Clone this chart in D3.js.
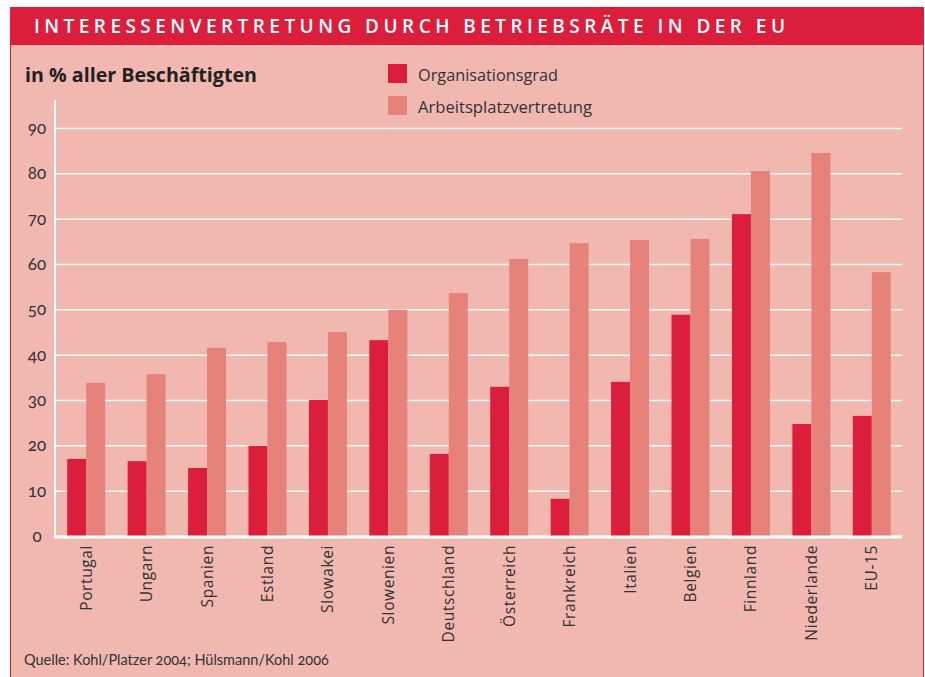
<!DOCTYPE html>
<html lang="de">
<head>
    <meta charset="UTF-8">
    <title>Interessenvertretung durch Betriebsräte in der EU</title>
    <script src="https://cdnjs.cloudflare.com/ajax/libs/d3/7.8.5/d3.min.js"></script>
    <style>
        body { margin: 0; background: #fff; }
        svg { display: block; }
    </style>
</head>
<body>
    <div id="wrapper"></div>
    <script>
        // Daten
        const countries = ['Portugal', 'Ungarn', 'Spanien', 'Estland', 'Slowakei', 'Slowenien',
            'Deutschland', 'Österreich', 'Frankreich', 'Italien', 'Belgien', 'Finnland',
            'Niederlande', 'EU-15']
        const organisationsgrad = [17.0, 16.5, 15.0, 19.9, 30.0, 43.2, 18.1, 32.9, 8.2, 34.0, 48.8, 71.0, 24.7, 26.5]
        const arbeitsplatzvertretung = [33.8, 35.7, 41.5, 42.8, 45.0, 49.9, 53.6, 61.1, 64.6, 65.3, 65.5, 80.5, 84.5, 58.2]
        const yTicks = [0, 10, 20, 30, 40, 50, 60, 70, 80, 90]
        const seriesNames = ['Organisationsgrad', 'Arbeitsplatzvertretung']

        const colors = {
            red: '#db1e3c',
            light: '#e6827a',
            panel: '#f0b8b0',
            text: '#333333'
        }

        function drawChart() {
            const dimensions = { width: 925, height: 677 }

            const wrapper = d3.select('#wrapper')
                .append('svg')
                    .attr('width', dimensions.width)
                    .attr('height', dimensions.height)

            // Rahmen + Titelbalken
            wrapper.append('rect')
                .attr('x', 10).attr('y', 7)
                .attr('width', 914).attr('height', 680)
                .attr('fill', colors.red)
            wrapper.append('rect')
                .attr('x', 11).attr('y', 45)
                .attr('width', 912).attr('height', 640)
                .attr('fill', colors.panel)

            wrapper.append('text')
                .attr('x', 34).attr('y', 33)
                .attr('fill', '#fff')
                .style('font-family', '"Open Sans", sans-serif')
                .style('font-weight', 600)
                .style('font-size', '19px')
                .attr('textLength', 751)
                .attr('lengthAdjust', 'spacing')
                .text('INTERESSENVERTRETUNG DURCH BETRIEBSRÄTE IN DER EU')

            wrapper.append('text')
                .attr('x', 25).attr('y', 82)
                .attr('fill', '#222')
                .style('font-family', '"Open Sans", sans-serif')
                .style('font-weight', 700)
                .style('font-size', '20px')
                .attr('textLength', 232)
                .attr('lengthAdjust', 'spacingAndGlyphs')
                .text('in % aller Beschäftigten')

            // Legende
            const legend = wrapper.append('g')
            const legendColors = [colors.red, colors.light]
            seriesNames.forEach((name, i) => {
                const y = 64 + i * 32
                legend.append('rect')
                    .attr('x', 388).attr('y', y)
                    .attr('width', 19).attr('height', 19)
                    .attr('fill', legendColors[i])
                legend.append('text')
                    .attr('x', 418).attr('y', y + 17)
                    .attr('fill', colors.text)
                    .style('font-family', '"Open Sans", sans-serif')
                    .style('font-size', '17px')
                    .attr('textLength', i === 0 ? 140 : 174)
                    .attr('lengthAdjust', 'spacingAndGlyphs')
                    .text(name)
            })

            // Skalen
            const xScale = d3.scaleBand()
                .domain(countries)
                .range([56, 902])
                .padding(0)

            const yScale = d3.scaleLinear()
                .domain([0, 90])
                .range([536, 128])

            const barWidth = 19

            // Gitterlinien
            const yAxisGenerator = d3.axisLeft(yScale)
                .tickValues(yTicks)
                .tickSize(-(902 - 55))
                .tickFormat(d => d)
            const yAxis = wrapper.append('g')
                .attr('transform', 'translate(55,0)')
                .call(yAxisGenerator)
            yAxis.select('.domain').remove()
            yAxis.selectAll('.tick line')
                .attr('stroke', '#fff')
                .attr('stroke-width', 1.5)
                .attr('opacity', 0.9)
            yAxis.selectAll('.tick text')
                .attr('x', -18)
                .attr('text-anchor', 'middle')
                .attr('fill', colors.text)
                .style('font-family', 'Lato, sans-serif')
                .style('font-size', '17px')
                .style('font-variant-numeric', 'oldstyle-nums')

            // Balken
            const bars = wrapper.append('g')
            bars.selectAll('rect.org')
                .data(countries)
                .join('rect')
                    .attr('class', 'org')
                    .attr('x', d => xScale(d) + xScale.bandwidth() / 2 - barWidth)
                    .attr('y', (d, i) => yScale(organisationsgrad[i]))
                    .attr('width', barWidth)
                    .attr('height', (d, i) => yScale(0) - yScale(organisationsgrad[i]))
                    .attr('fill', colors.red)
            bars.selectAll('rect.apv')
                .data(countries)
                .join('rect')
                    .attr('class', 'apv')
                    .attr('x', d => xScale(d) + xScale.bandwidth() / 2)
                    .attr('y', (d, i) => yScale(arbeitsplatzvertretung[i]))
                    .attr('width', barWidth)
                    .attr('height', (d, i) => yScale(0) - yScale(arbeitsplatzvertretung[i]))
                    .attr('fill', colors.light)

            // Achsenlinien
            wrapper.append('line')
                .attr('x1', 55).attr('x2', 55)
                .attr('y1', 100).attr('y2', 537)
                .attr('stroke', '#fff')
                .attr('stroke-width', 2)
            wrapper.append('line')
                .attr('x1', 54).attr('x2', 902)
                .attr('y1', 537).attr('y2', 537)
                .attr('stroke', '#fff')
                .attr('stroke-width', 3)

            // x-Achse Beschriftung
            const xAxisGenerator = d3.axisBottom(xScale).tickSize(0)
            const xAxis = wrapper.append('g')
                .attr('transform', 'translate(0,545)')
                .call(xAxisGenerator)
            xAxis.select('.domain').remove()
            xAxis.selectAll('.tick text')
                .attr('transform', 'rotate(-90)')
                .attr('x', 0)
                .attr('y', 0)
                .attr('dy', '0.35em')
                .attr('text-anchor', 'end')
                .attr('fill', colors.text)
                .style('font-family', '"Open Sans", sans-serif')
                .style('font-size', '15.5px')
                .style('letter-spacing', '0.6px')

            // Quelle
            wrapper.append('text')
                .attr('x', 24).attr('y', 665)
                .attr('fill', colors.text)
                .style('font-family', 'Lato, sans-serif')
                .style('font-size', '14.5px')
                .style('font-variant-numeric', 'oldstyle-nums')
                .text('Quelle: Kohl/Platzer 2004; Hülsmann/Kohl 2006')
        }

        drawChart()
    </script>
</body>
</html>
